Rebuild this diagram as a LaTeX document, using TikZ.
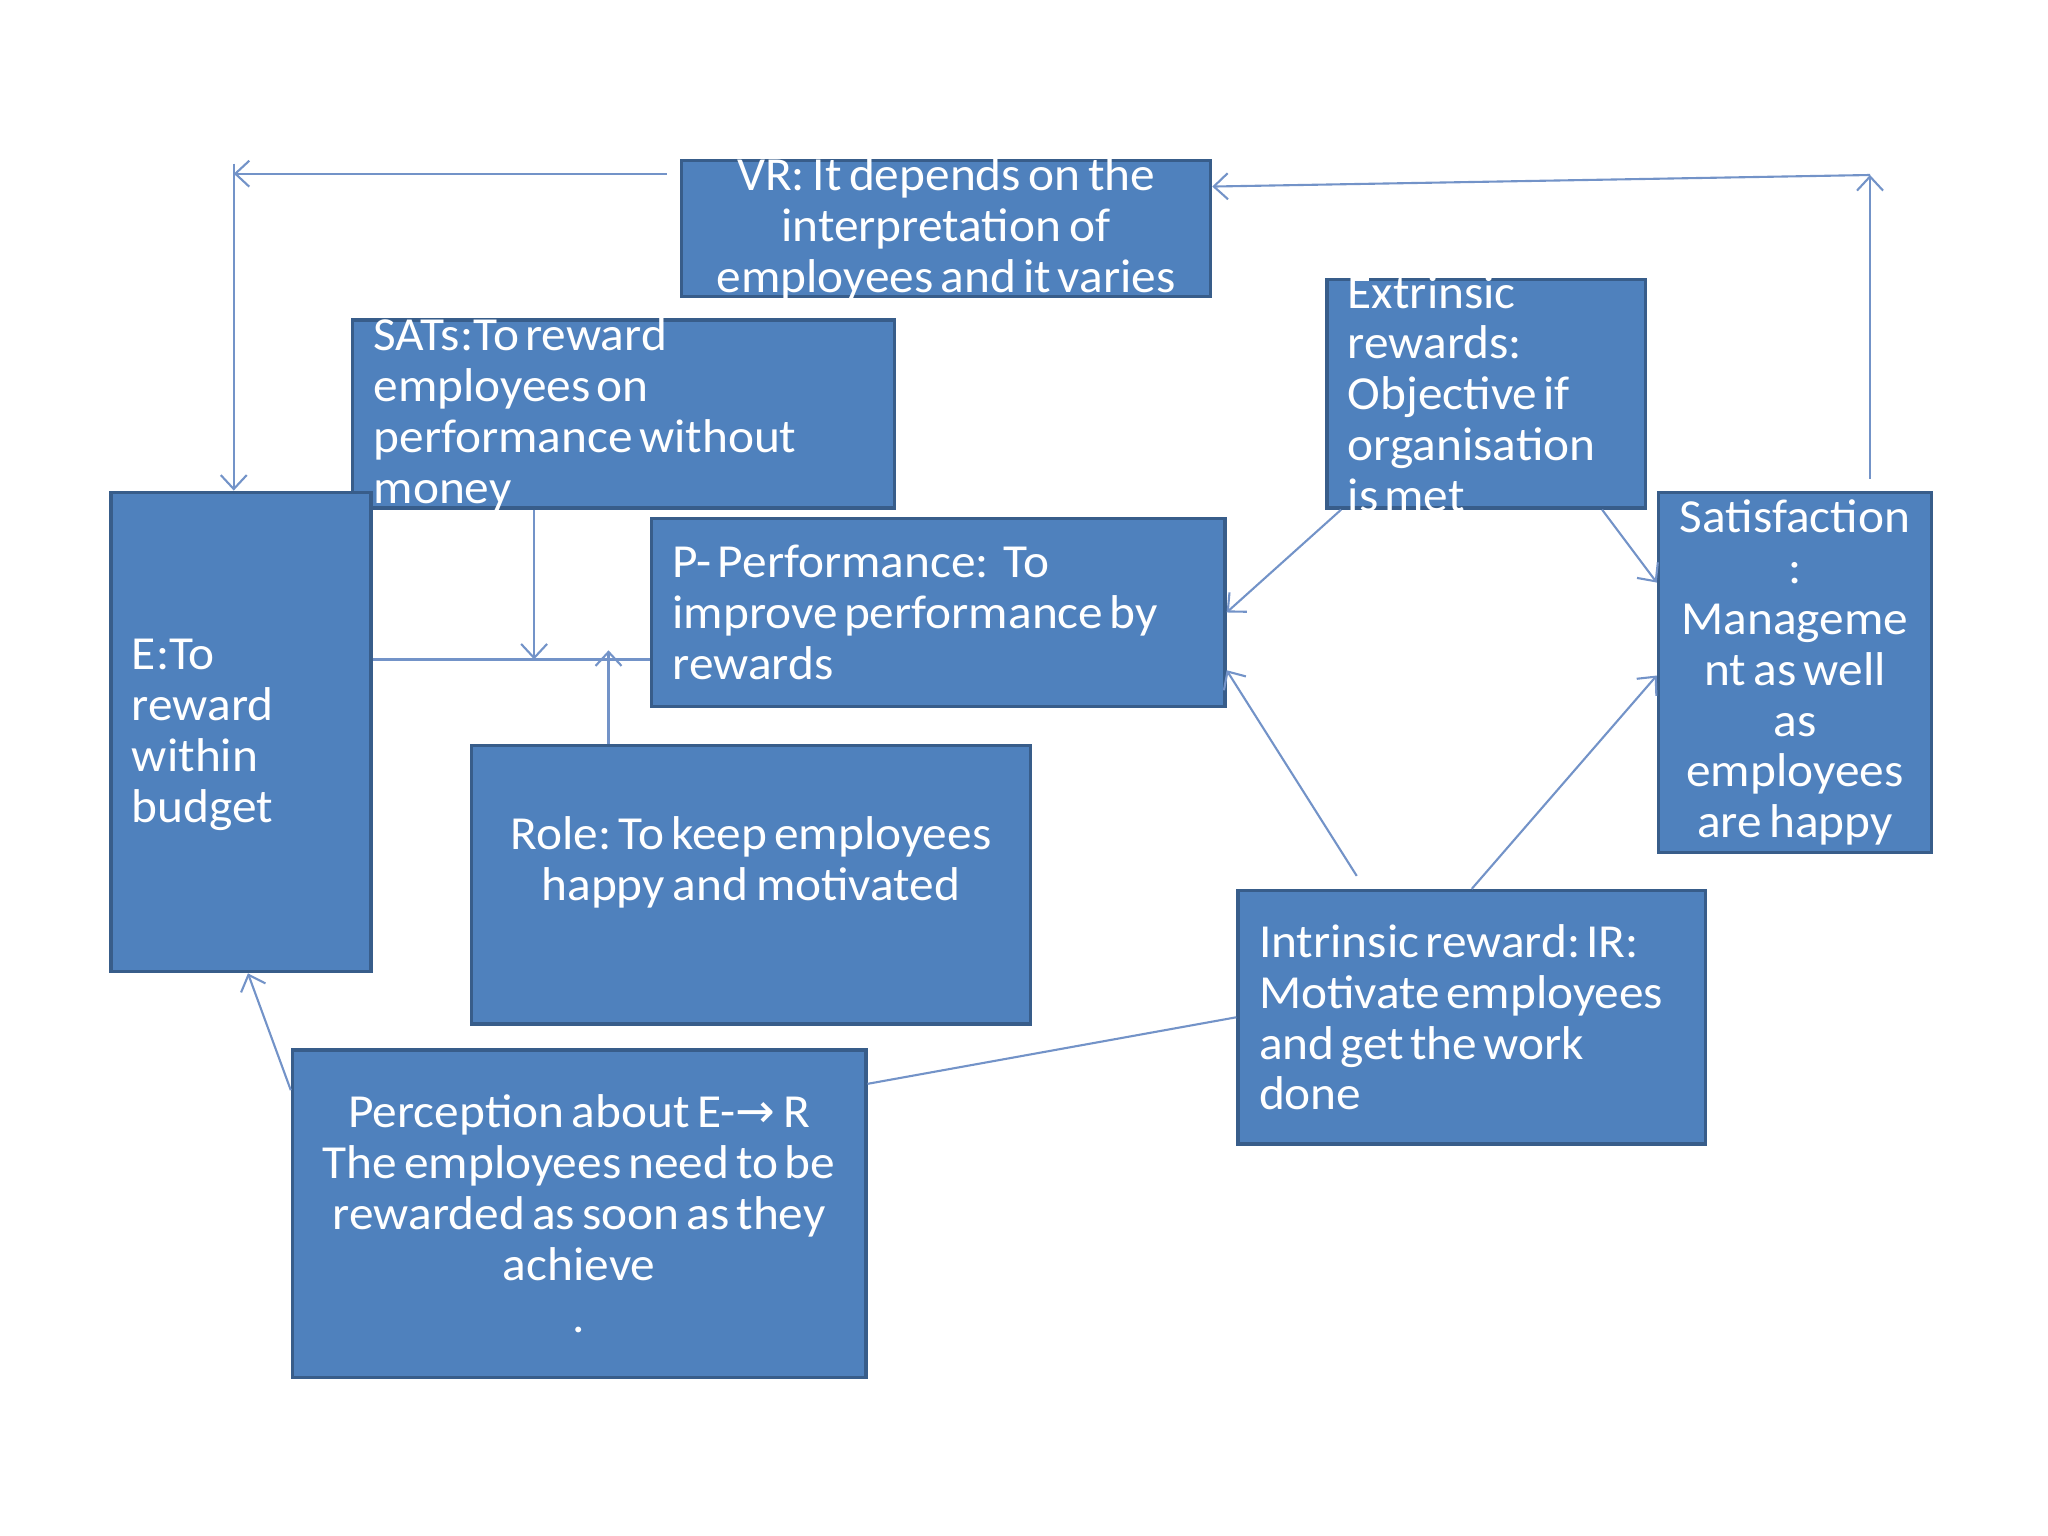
\documentclass[tikz,border=0pt]{standalone}
\usepackage{fontspec}
\setmainfont[FakeStretch=1.04]{Carlito}
\newfontfamily\arrowfont{DejaVu Sans}
\usetikzlibrary{arrows.meta}

\definecolor{boxfill}{HTML}{4F81BD}
\definecolor{boxdraw}{HTML}{385D8A}
\definecolor{linkcol}{HTML}{7393C8}

% tight word spacing as in the slide
\protected\def\rewardfont{\fontsize{13.5}{14.49}\selectfont}
\protected\def\tightspaces{\spaceskip=0.13em plus 0.05em\xspaceskip=0.13em plus 0.05em\relax}

\tikzset{
  box/.style={draw=boxdraw, fill=boxfill, line width=1pt, inner sep=0pt},
  txt/.style={text=white, inner sep=0pt, font=\rewardfont,
    execute at begin node=\tightspaces},
  link/.style={draw=linkcol, line width=0.6pt},
  conn/.style={link, -{Straight Barb[length=1.4mm,width=2.6mm]}},
}

\begin{document}
\begin{tikzpicture}[x=0.013059cm, y=-0.013059cm]
  \useasboundingbox (0,0) rectangle (1568.3,1176.2);

  % boxes
  \node[box, minimum width=5.289cm, minimum height=1.358cm] (vr)   at (724.5,175)   {};
  \node[box, minimum width=5.419cm, minimum height=1.880cm] (sats) at (477.5,317)   {};
  \node[box, minimum width=3.186cm, minimum height=2.285cm] (ext)  at (1138,301.5)  {};
  \node[box, minimum width=2.599cm, minimum height=4.793cm] (e)    at (184.5,560.5) {};
  \node[box, minimum width=5.733cm, minimum height=1.880cm] (p)    at (718.5,469)   {};
  \node[box, minimum width=2.729cm, minimum height=3.604cm] (sat)  at (1374.5,515)  {};
  \node[box, minimum width=5.589cm, minimum height=2.782cm] (role) at (575,677.5)   {};
  \node[box, minimum width=4.675cm, minimum height=2.533cm] (intr) at (1127,779)    {};
  \node[box, minimum width=5.733cm, minimum height=3.278cm] (perc) at (443.5,929.5) {};

  % texts
  \node[txt, text width=5.25cm, align=center] (vr-t) at (vr)
    {VR: It depends on the\\interpretation of\\employees and it varies};
  \node[txt, text width=5.0cm, align=left] (sats-t) at (sats)
    {SATs:To reward\\employees on\\performance without\\money};
  \node[txt, text width=2.766cm, align=left] (ext-t) at (ext)
    {Extrinsic\\rewards:\\Objective if\\organisation\\is met};
  \node[txt, text width=2.18cm, align=left] (e-t) at ([yshift=-0.03cm]e)
    {E:To\\reward\\within\\budget};
  \node[txt, text width=5.313cm, align=left] (p-t) at (p)
    {P- Performance:\hspace{0.3em}To\\improve performance by\\rewards};
  \node[txt, text width=2.7cm, align=center] (sat-t) at (sat)
    {Satisfaction\\:\\Manageme\\nt as well\\as\\employees\\are happy};
  \node[txt, text width=5.55cm, align=center] (role-t) at (575,660.5)
    {Role: To keep employees\\happy and motivated};
  \node[txt, text width=4.255cm, align=left] (intr-t) at (intr)
    {Intrinsic reward: IR:\\Motivate employees\\and get the work\\done};
  \node[txt, text width=5.7cm, align=center] (perc-t) at (perc)
    {Perception about E-{\arrowfont →} R\\The employees need to be\\rewarded as soon as they\\achieve\\[0.02cm].};

  % corners and meeting points
  \coordinate (tl) at (179,133);
  \coordinate (tr) at (1432,134);
  \coordinate (ep) at (409,505);
  \coordinate (rp) at (466,498);

  % links
  \draw[conn] ([xshift=-0.13cm]vr.west |- tl) -- (tl);
  \draw[conn] ([yshift=0.1cm]tl) -- (e.north -| tl);
  \draw[conn] ([yshift=0.12cm]sat.north -| tr) -- (tr);
  \draw[conn] (tr) -- ([yshift=0.42cm]vr.east);
  \draw[conn] (sats.south -| ep) -- (ep);
  \draw[link] (e.east |- ep) -- (p.west |- ep);
  \draw[conn] (role.north -| rp) -- (rp);
  \draw[conn] ([xshift=0.16cm]ext.south west) -- (p.east);
  \draw[conn] ([xshift=-0.45cm]ext.south east) -- ([yshift=0.9cm]sat.west);
  \draw[conn] ([xshift=-1.15cm,yshift=0.13cm]intr.north) -- ([yshift=0.38cm]p.south east);
  \draw[conn] (intr.north) -- ([yshift=-0.03cm]sat.west);
  \draw[link] (intr.west) -- ([yshift=1.3cm]perc.east);
  \draw[conn] ([yshift=-0.42cm]perc.north west) -- ([xshift=0.07cm]e.south);
\end{tikzpicture}
\end{document}
